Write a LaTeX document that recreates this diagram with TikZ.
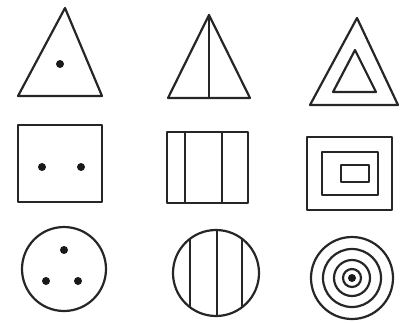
\documentclass[tikz,border=0pt]{standalone}
\begin{document}
\begin{tikzpicture}[x=1pt,y=-1pt,
  ink/.style={draw=black!85,line width=2.2pt,line join=round,line cap=round},
  spot/.style={fill=black!90}]
\useasboundingbox (0,0) rectangle (414,322);
% row 1: triangles
\coordinate (t1a) at (65,8); \coordinate (t1b) at (18,96); \coordinate (t1c) at (102,96);
\draw[ink] (t1a) -- (t1b) -- (t1c) -- cycle;
\fill[spot] (60,64) circle (4);
\coordinate (t2a) at (209,15); \coordinate (t2b) at (168,98); \coordinate (t2c) at (250,98);
\coordinate (t2m) at (209,98);
\draw[ink] (t2a) -- (t2b) -- (t2c) -- cycle;
\draw[ink] (t2a) -- (t2m);
\coordinate (t3a) at (357,18); \coordinate (t3b) at (310,105); \coordinate (t3c) at (398,105);
\draw[ink] (t3a) -- (t3b) -- (t3c) -- cycle;
\coordinate (t4a) at (355,50); \coordinate (t4b) at (333,92); \coordinate (t4c) at (376,92);
\draw[ink] (t4a) -- (t4b) -- (t4c) -- cycle;
% row 2: squares
\draw[ink] (18,125) rectangle (102,202);
\fill[spot] (42,167) circle (4);
\fill[spot] (81,167) circle (4);
\draw[ink] (167,132) rectangle (248,203);
\draw[ink] (185,132) -- (185,203);
\draw[ink] (222,132) -- (222,203);
\draw[ink] (307,137) rectangle (392,210);
\draw[ink] (322,152) rectangle (378,195);
\draw[ink] (341,165) rectangle (369,182);
% row 3: circles
\draw[ink] (64,269) circle (42);
\fill[spot] (64,250) circle (4);
\fill[spot] (46,281) circle (4);
\fill[spot] (78,281) circle (4);
\begin{scope}
  \clip (216,273) circle (43);
  \draw[ink] (190,220) -- (190,330);
  \draw[ink] (217,220) -- (217,330);
  \draw[ink] (242,220) -- (242,330);
\end{scope}
\draw[ink] (216,273) circle (43);
\draw[ink] (352,278) circle (41);
\draw[ink] (352,278) circle (29);
\draw[ink] (352,278) circle (18);
\draw[ink] (352,278) circle (9);
\fill[spot] (352,278) circle (4);
\end{tikzpicture}
\end{document}
